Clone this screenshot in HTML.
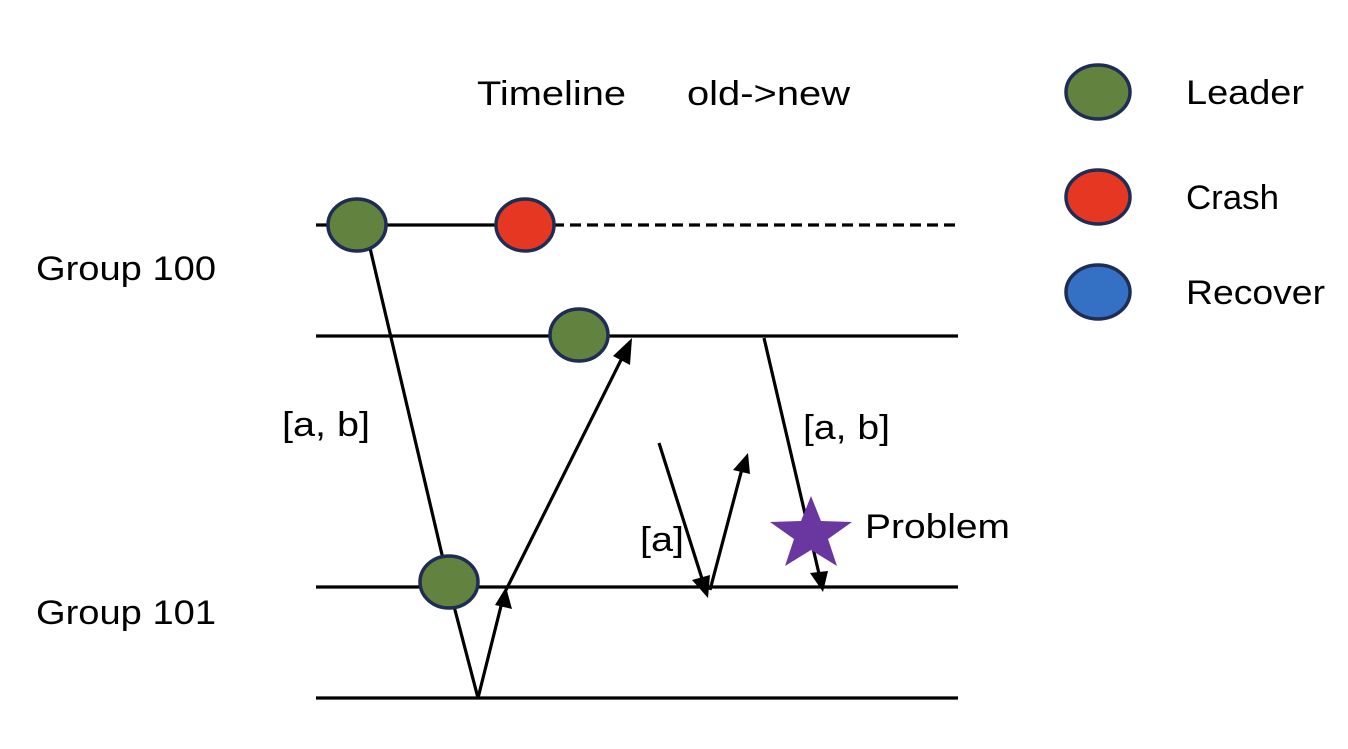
<!DOCTYPE html>
<html><head><style>
body{margin:0;background:#fff}
svg text{font-family:"Liberation Sans","DejaVu Sans",sans-serif;font-size:34px;fill:#000}
</style></head><body>
<svg width="1348" height="744" viewBox="0 0 1348 744" xmlns="http://www.w3.org/2000/svg">
<g stroke="#000" stroke-width="3.2" fill="none">
<line x1="316" y1="225" x2="553" y2="225"/>
<line x1="553" y1="225" x2="958" y2="225" stroke-dasharray="11,6"/>
<line x1="316" y1="336" x2="958" y2="336"/>
<line x1="316" y1="587" x2="958" y2="587"/>
<line x1="316" y1="698" x2="958" y2="698"/>
<polyline points="370,248 455,610 478,698"/>
<line x1="478" y1="698" x2="503" y2="598"/>
<line x1="506" y1="590" x2="626" y2="350"/>
<line x1="659" y1="443" x2="704" y2="585"/>
<line x1="710" y1="590" x2="743" y2="465"/>
<line x1="764" y1="338" x2="820" y2="578"/>
</g>
<g fill="#000">
<polygon points="506,587 495,605 512,609"/>
<polygon points="632,338 613,356 630,365"/>
<polygon points="708,598 692,580 710,575"/>
<polygon points="748,453 733,470 750,474"/>
<polygon points="823,592 810,573 828,571"/>
</g>
<g stroke="#1f2d55" stroke-width="3.5">
<ellipse cx="357" cy="225" rx="29" ry="26" fill="#62823f"/>
<ellipse cx="525" cy="225" rx="29" ry="26" fill="#e63723"/>
<ellipse cx="579" cy="335" rx="29" ry="26" fill="#62823f"/>
<ellipse cx="449" cy="582" rx="29" ry="26" fill="#62823f"/>
<ellipse cx="1098" cy="92" rx="32" ry="27" fill="#62823f"/>
<ellipse cx="1098" cy="197" rx="32" ry="27" fill="#e63723"/>
<ellipse cx="1098" cy="292" rx="32" ry="27" fill="#3470c4"/>
</g>
<polygon fill="#6a36a0" points="811,496 821,521 852,522 828,539 837,566 811,550 785,566 794,539 770,522 801,521"/>
<text x="477" y="105" textLength="149" lengthAdjust="spacingAndGlyphs">Timeline</text>
<text x="687" y="105" textLength="163" lengthAdjust="spacingAndGlyphs">old-&gt;new</text>
<text x="1186" y="104" textLength="118" lengthAdjust="spacingAndGlyphs">Leader</text>
<text x="1186" y="209" textLength="93" lengthAdjust="spacingAndGlyphs">Crash</text>
<text x="1186" y="304" textLength="139" lengthAdjust="spacingAndGlyphs">Recover</text>
<text x="36" y="280" textLength="180" lengthAdjust="spacingAndGlyphs">Group 100</text>
<text x="36" y="624" textLength="180" lengthAdjust="spacingAndGlyphs">Group 101</text>
<text x="282" y="436" textLength="88" lengthAdjust="spacingAndGlyphs">[a, b]</text>
<text x="803" y="439" textLength="87" lengthAdjust="spacingAndGlyphs">[a, b]</text>
<text x="640" y="551" textLength="44" lengthAdjust="spacingAndGlyphs">[a]</text>
<text x="865" y="538" textLength="145" lengthAdjust="spacingAndGlyphs">Problem</text>
</svg>
</body></html>
